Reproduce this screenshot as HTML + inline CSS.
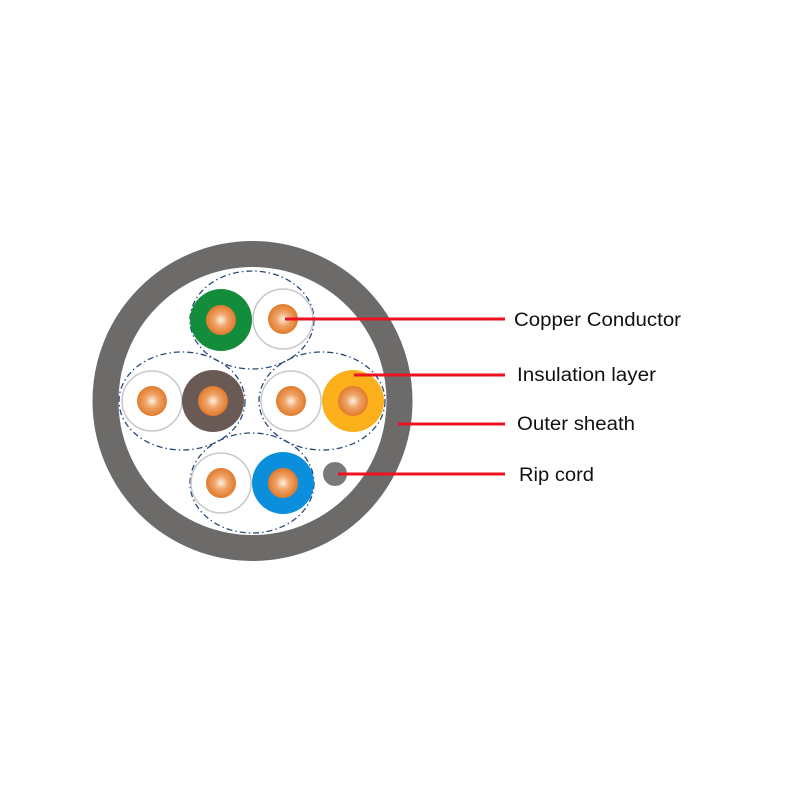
<!DOCTYPE html>
<html><head><meta charset="utf-8"><style>html,body{margin:0;padding:0;background:#fff}svg{display:block}</style></head>
<body>
<svg width="800" height="800" viewBox="0 0 800 800" xmlns="http://www.w3.org/2000/svg">
<defs>
<radialGradient id="cu" cx="50%" cy="50%" r="50%">
<stop offset="0" stop-color="#fdf1e4"/>
<stop offset="0.45" stop-color="#f0a468"/>
<stop offset="1" stop-color="#e07a2c"/>
</radialGradient>
</defs>
<rect width="800" height="800" fill="#fff"/>
<circle cx="252.5" cy="401" r="147" fill="#fff" stroke="#6d6b6a" stroke-width="26"/>
<g fill="none" stroke="#2a4a7a" stroke-width="1.3" stroke-dasharray="6 3 1.5 3">
<ellipse cx="252" cy="320" rx="62" ry="49"/>
<ellipse cx="182" cy="401" rx="63" ry="49"/>
<ellipse cx="322" cy="401" rx="63" ry="49"/>
<ellipse cx="252" cy="483" rx="62" ry="50"/>
</g>
<g stroke="#c8c8c8" stroke-width="1.5">
<circle cx="221" cy="320" r="31" fill="#138c3c" stroke="none"/>
<circle cx="283" cy="319" r="30" fill="#fff"/>
<circle cx="152" cy="401" r="30" fill="#fff"/>
<circle cx="213" cy="401" r="31" fill="#6a5a55" stroke="none"/>
<circle cx="291" cy="401" r="30" fill="#fff"/>
<circle cx="353" cy="401" r="31" fill="#fbb01c" stroke="none"/>
<circle cx="221" cy="483" r="30" fill="#fff"/>
<circle cx="283" cy="483" r="31" fill="#0b8fdc" stroke="none"/>
</g>
<g fill="url(#cu)">
<circle cx="221" cy="320" r="15"/>
<circle cx="283" cy="319" r="15"/>
<circle cx="152" cy="401" r="15"/>
<circle cx="213" cy="401" r="15"/>
<circle cx="291" cy="401" r="15"/>
<circle cx="353" cy="401" r="15"/>
<circle cx="221" cy="483" r="15"/>
<circle cx="283" cy="483" r="15"/>
</g>
<circle cx="335" cy="474" r="12" fill="#7a7878"/>
<g stroke="#ee1122" stroke-width="3">
<line x1="285" y1="319" x2="505" y2="319"/>
<line x1="354" y1="375" x2="505" y2="375"/>
<line x1="398" y1="424" x2="505" y2="424"/>
<line x1="338" y1="474" x2="505" y2="474"/>
</g>
<g font-family="Liberation Sans, sans-serif" font-size="19" fill="#111">
<text x="514" y="326" textLength="167" lengthAdjust="spacingAndGlyphs">Copper Conductor</text>
<text x="517" y="381" textLength="139" lengthAdjust="spacingAndGlyphs">Insulation layer</text>
<text x="517" y="430" textLength="118" lengthAdjust="spacingAndGlyphs">Outer sheath</text>
<text x="519" y="481" textLength="75" lengthAdjust="spacingAndGlyphs">Rip cord</text>
</g>
</svg>
</body></html>
